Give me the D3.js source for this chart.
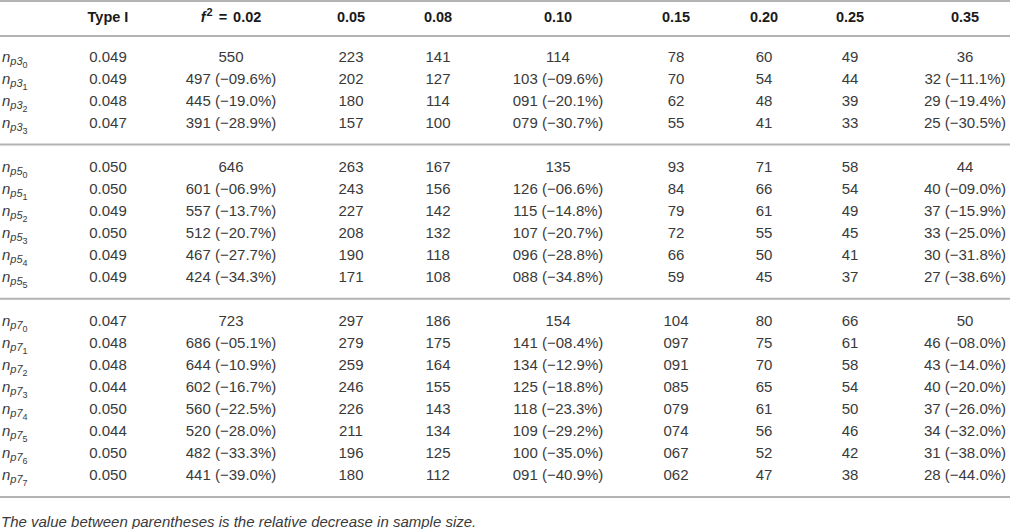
<!DOCTYPE html>
<html>
<head>
<meta charset="utf-8">
<script src="https://cdn.jsdelivr.net/npm/d3@7"></script>
<style>
  body { margin: 0; background: #fff; }
  svg { display: block; font-family: "Liberation Sans", Arial, sans-serif; }
</style>
</head>
<body>
<svg id="chart"></svg>
<script>
// table values, one array per column (18 rows: p3 0..3, p5 0..5, p7 0..7)
const groups = ["p3", "p5", "p7"];
const groupSizes = [4, 6, 8];
const columns = ["typeI", "f02", "f05", "f08", "f10", "f15", "f20", "f25", "f35"];
const headers = ["Type I", "0.02", "0.05", "0.08", "0.10", "0.15", "0.20", "0.25", "0.35"];

const typeI = ["0.049", "0.049", "0.048", "0.047",
  "0.050", "0.050", "0.049", "0.050", "0.049", "0.049",
  "0.047", "0.048", "0.048", "0.044", "0.050", "0.044", "0.050", "0.050"];
const f02 = ["550", "497 (−09.6%)", "445 (−19.0%)", "391 (−28.9%)",
  "646", "601 (−06.9%)", "557 (−13.7%)", "512 (−20.7%)", "467 (−27.7%)", "424 (−34.3%)",
  "723", "686 (−05.1%)", "644 (−10.9%)", "602 (−16.7%)", "560 (−22.5%)", "520 (−28.0%)", "482 (−33.3%)", "441 (−39.0%)"];
const f05 = ["223", "202", "180", "157",
  "263", "243", "227", "208", "190", "171",
  "297", "279", "259", "246", "226", "211", "196", "180"];
const f08 = ["141", "127", "114", "100",
  "167", "156", "142", "132", "118", "108",
  "186", "175", "164", "155", "143", "134", "125", "112"];
const f10 = ["114", "103 (−09.6%)", "091 (−20.1%)", "079 (−30.7%)",
  "135", "126 (−06.6%)", "115 (−14.8%)", "107 (−20.7%)", "096 (−28.8%)", "088 (−34.8%)",
  "154", "141 (−08.4%)", "134 (−12.9%)", "125 (−18.8%)", "118 (−23.3%)", "109 (−29.2%)", "100 (−35.0%)", "091 (−40.9%)"];
const f15 = ["78", "70", "62", "55",
  "93", "84", "79", "72", "66", "59",
  "104", "097", "091", "085", "079", "074", "067", "062"];
const f20 = ["60", "54", "48", "41",
  "71", "66", "61", "55", "50", "45",
  "80", "75", "70", "65", "61", "56", "52", "47"];
const f25 = ["49", "44", "39", "33",
  "58", "54", "49", "45", "41", "37",
  "66", "61", "58", "54", "50", "46", "42", "38"];
const f35 = ["36", "32 (−11.1%)", "29 (−19.4%)", "25 (−30.5%)",
  "44", "40 (−09.0%)", "37 (−15.9%)", "33 (−25.0%)", "30 (−31.8%)", "27 (−38.6%)",
  "50", "46 (−08.0%)", "43 (−14.0%)", "40 (−20.0%)", "37 (−26.0%)", "34 (−32.0%)", "31 (−38.0%)", "28 (−44.0%)"];
const footnote = "The value between parentheses is the relative decrease in sample size.";

const colData = { typeI, f02, f05, f08, f10, f15, f20, f25, f35 };

const width = 1010, height = 529;
const svg = d3.select("#chart").attr("width", width).attr("height", height);

// rows: every group is followed by one empty slot that holds the rule
const rows = [];
let slot = 0, idx = 0;
groups.forEach((g, gi) => {
  for (let k = 0; k < groupSizes[gi]; k++) {
    rows.push({ group: g, sub: k, slot: slot, i: idx });
    slot++; idx++;
  }
  slot++;
});
const y = d3.scaleLinear().domain([0, 20]).range([56.5, 497]);
const x = d3.scaleOrdinal().domain(columns)
  .range([108, 231, 351, 438, 558, 676, 764, 850, 965]);

const ruleColor = "#b3b3b3";
const line = (yy) => svg.append("line")
  .attr("x1", 0).attr("x2", width)
  .attr("y1", yy).attr("y2", yy)
  .attr("stroke", ruleColor).attr("stroke-width", 2);

line(1);
line(36);
// group separators + bottom rule
let acc = 0;
groupSizes.forEach(n => { acc += n + 1; line(y(acc - 1)); });

// header
const head = svg.append("g")
  .attr("font-weight", "bold").attr("font-size", 14.5).attr("fill", "#1a1a1a")
  .attr("text-anchor", "middle");
columns.forEach((c, i) => {
  const t = head.append("text").attr("x", x(c)).attr("y", 22);
  if (c === "f02") {
    t.append("tspan").attr("font-style", "italic").text("f");
    t.append("tspan").attr("font-size", 11).attr("dx", 1).attr("dy", -6).text("2");
    t.append("tspan").attr("dx", 6).attr("dy", 6).text("=");
    t.append("tspan").attr("dx", 6).text(headers[i]);
  } else {
    t.text(headers[i]);
  }
});

// body
const body = svg.append("g").attr("font-size", 15).attr("fill", "#3a3a3a");

const label = body.selectAll("text.lab").data(rows).join("text")
  .attr("class", "lab")
  .attr("x", 2)
  .attr("y", d => y(d.slot) + 5)
  .attr("font-style", "italic");
label.append("tspan").text("n");
label.append("tspan").attr("font-size", 11).attr("dy", 3).text(d => d.group);
label.append("tspan").attr("font-size", 9).attr("font-style", "normal").attr("dy", 3).text(d => d.sub);

columns.forEach(c => {
  body.append("g").attr("text-anchor", "middle")
    .selectAll("text").data(rows).join("text")
    .attr("x", x(c))
    .attr("y", d => y(d.slot) + 5.5)
    .text(d => colData[c][d.i]);
});

svg.append("text")
  .attr("x", 1).attr("y", 527)
  .attr("font-size", 15).attr("font-style", "italic").attr("fill", "#3a3a3a")
  .text(footnote);
</script>
</body>
</html>
